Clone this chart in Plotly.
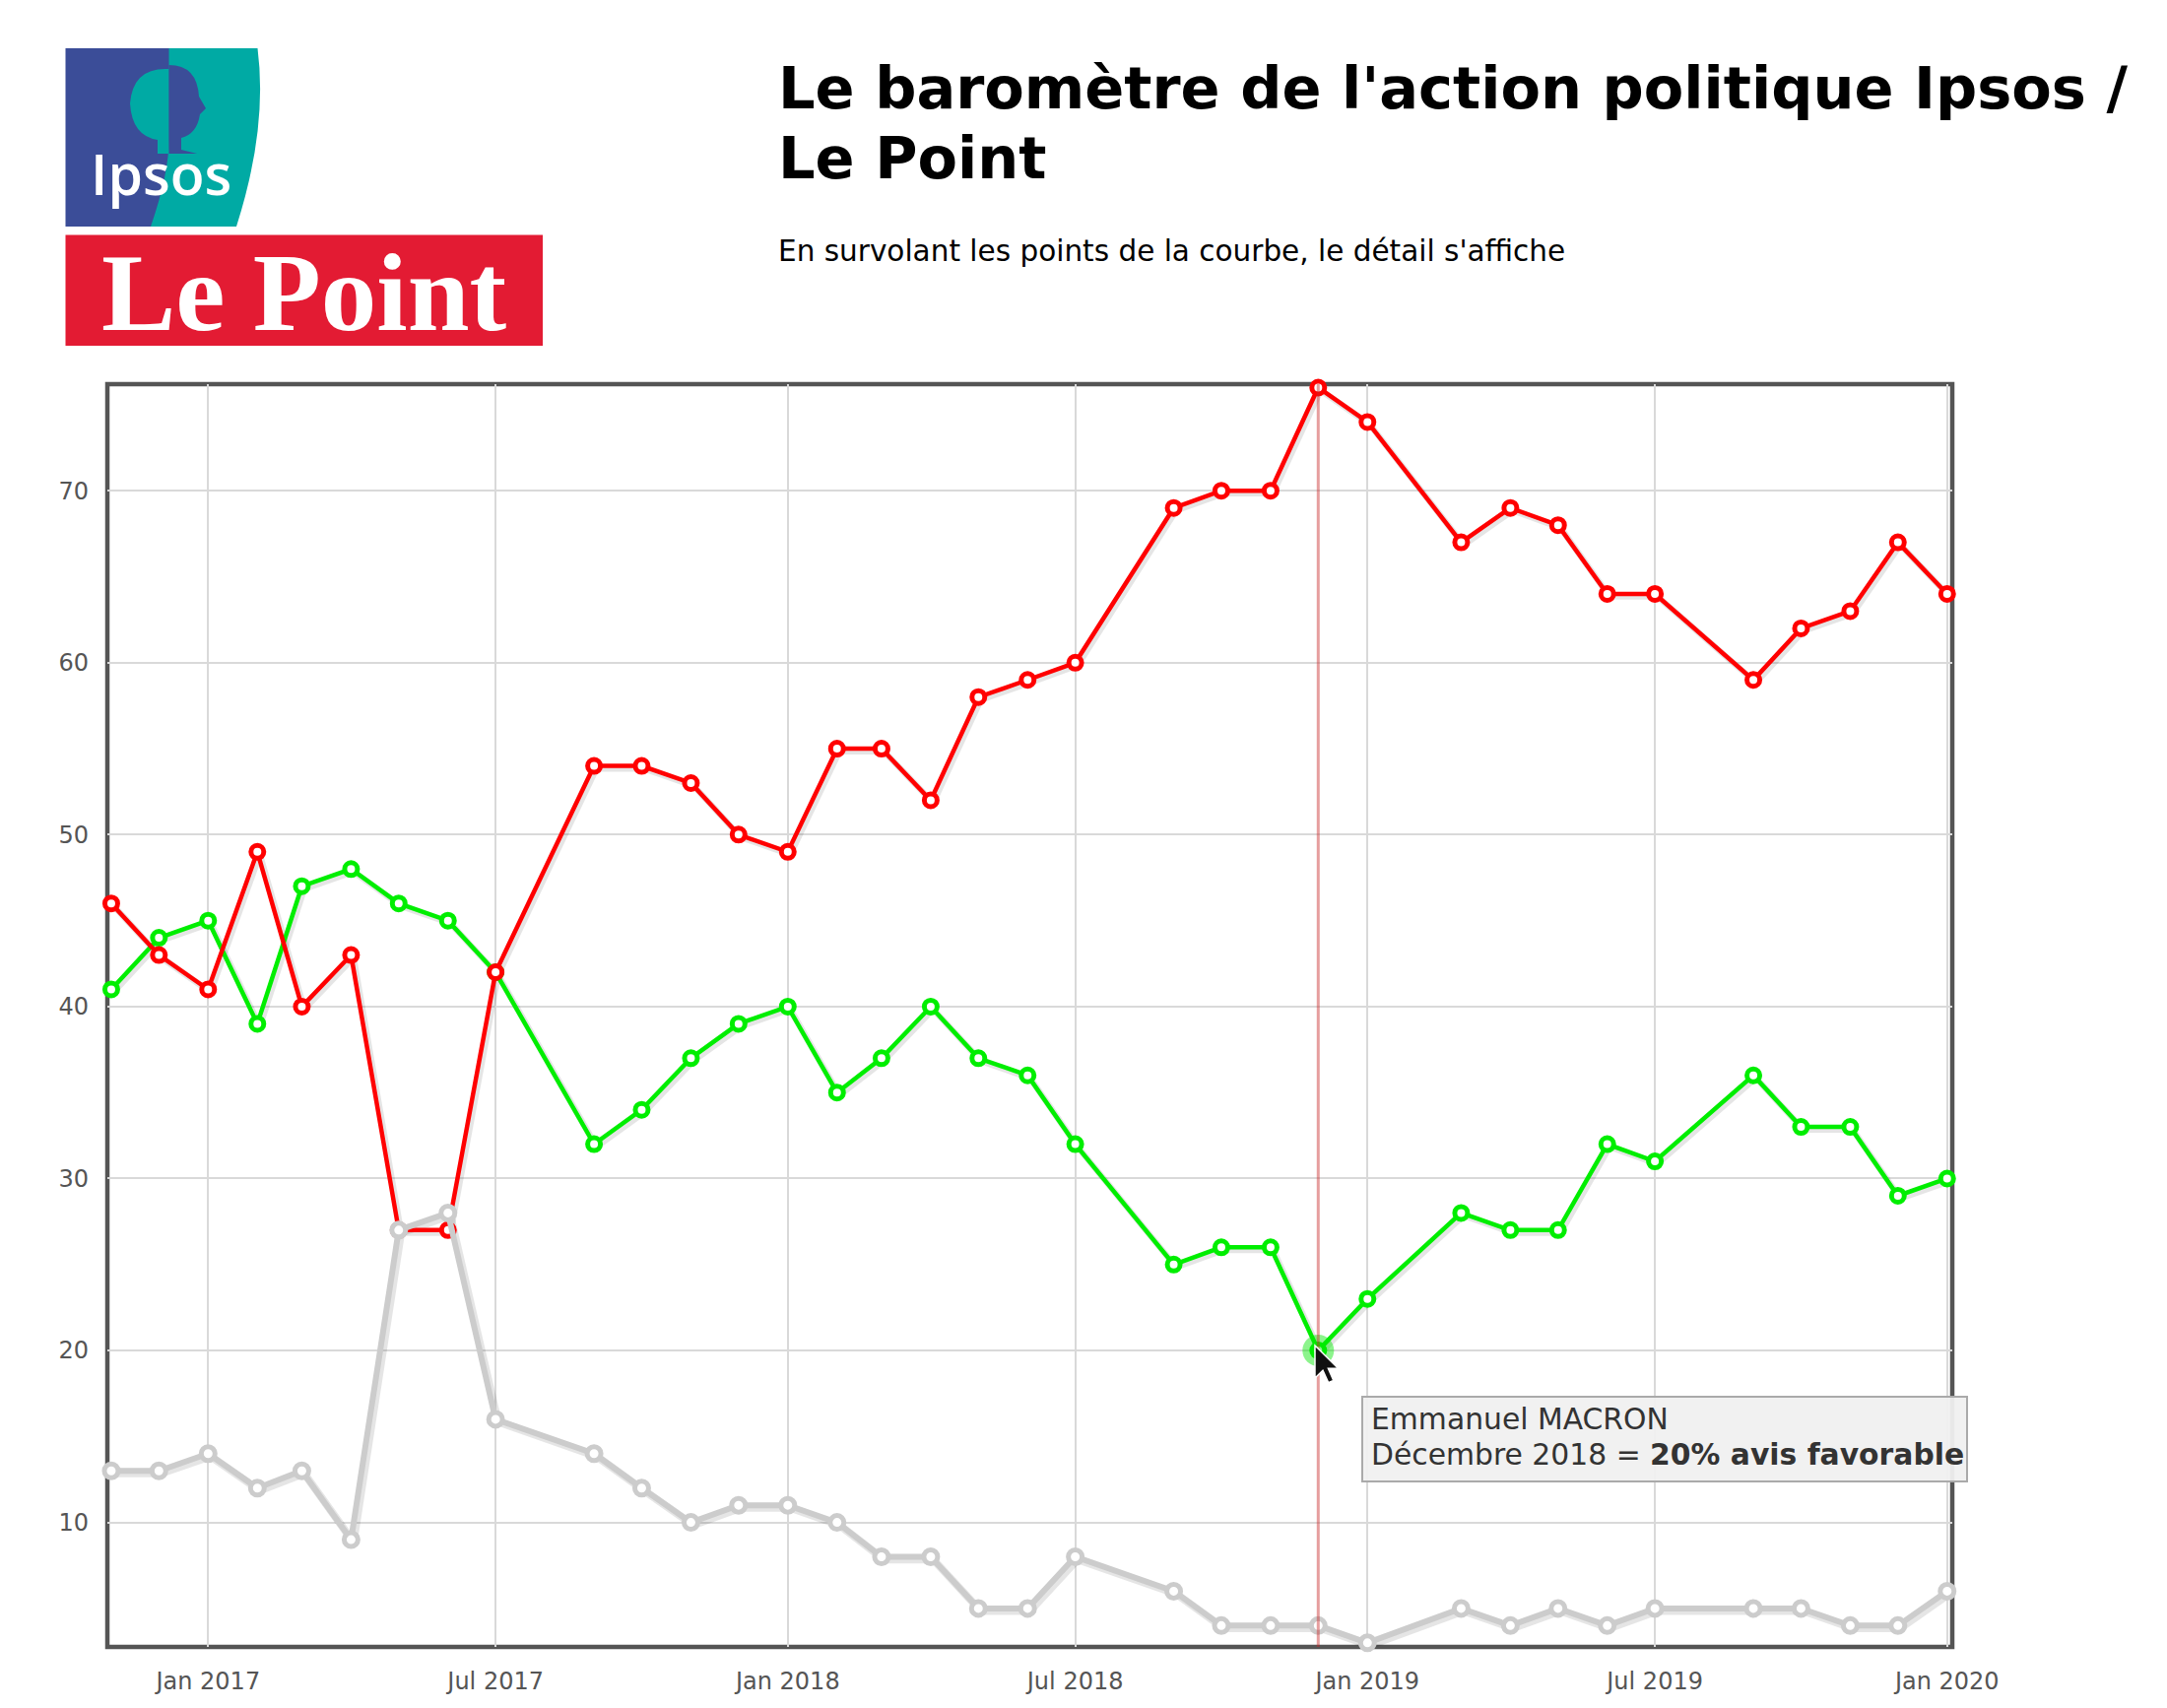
import plotly.graph_objects as go
import pandas as pd

# Baromètre Ipsos / Le Point - Emmanuel Macron (avis en %)
mois = ["2016-11-01", "2016-12-01", "2017-01-01", "2017-02-01", "2017-03-01", "2017-04-01",
        "2017-05-01", "2017-06-01", "2017-07-01", "2017-09-01", "2017-10-01", "2017-11-01",
        "2017-12-01", "2018-01-01", "2018-02-01", "2018-03-01", "2018-04-01", "2018-05-01",
        "2018-06-01", "2018-07-01", "2018-09-01", "2018-10-01", "2018-11-01", "2018-12-01",
        "2019-01-01", "2019-03-01", "2019-04-01", "2019-05-01", "2019-06-01", "2019-07-01",
        "2019-09-01", "2019-10-01", "2019-11-01", "2019-12-01", "2020-01-01"]
favorable = [41, 44, 45, 39, 47, 48, 46, 45, 42, 32, 34, 37, 39, 40, 35, 37, 40, 37,
             36, 32, 25, 26, 26, 20, 23, 28, 27, 27, 32, 31, 36, 33, 33, 29, 30]
defavorable = [46, 43, 41, 49, 40, 43, 27, 27, 42, 54, 54, 53, 50, 49, 55, 55, 52, 58,
               59, 60, 69, 70, 70, 76, 74, 67, 69, 68, 64, 64, 59, 62, 63, 67, 64]
sans_opinion = [13, 13, 14, 12, 13, 9, 27, 28, 16, 14, 12, 10, 11, 11, 10, 8, 8, 5,
                5, 8, 6, 4, 4, 4, 3, 5, 4, 5, 4, 5, 5, 5, 4, 4, 6]

y_ticks = [10, 20, 30, 40, 50, 60, 70]
x_ticks = ["2017-01-01", "2017-07-01", "2018-01-01", "2018-07-01",
           "2019-01-01", "2019-07-01", "2020-01-01"]
x_tick_labels = ["Jan 2017", "Jul 2017", "Jan 2018", "Jul 2018",
                 "Jan 2019", "Jul 2019", "Jan 2020"]

# point survolé (tooltip)
survol = 23
mois_fr = "Décembre 2018"
personnalite = "Emmanuel MACRON"

W, H = 2200, 1734
OFF = 8  # page body margin
L, R, T, B = 109, 1982, 390, 1672  # plot area in page pixels


def px(x):
    return (x - L) / (R - L)


def py(y):
    return (B - y) / (B - T)


# x range from the pixel scale of the reference (1.6123 px per day)
jan17 = pd.Timestamp("2017-01-01")
px_per_day = 1.6123
x_start = jan17 - pd.Timedelta(days=(211.3 - L) / px_per_day)
x_end = jan17 + pd.Timedelta(days=(R - 211.3) / px_per_day)

fig = go.Figure()

series = [
    (favorable, "#00ee00", 4.5, 13, 5, "avis favorable"),
    (defavorable, "#ff0000", 4.5, 13, 5, "avis défavorable"),
    (sans_opinion, "#cccccc", 6, 14, 5, "sans opinion"),
]

# soft drop shadows
for vals, col, w, ms, mw, nom in series:
    fig.add_trace(go.Scatter(
        x=pd.to_datetime(mois) + pd.Timedelta(days=1.5), y=[v - 0.15 for v in vals],
        mode="lines", line=dict(color="rgba(0,0,0,0.10)", width=w + 2),
        hoverinfo="skip", showlegend=False, cliponaxis=False
    ))

for vals, col, w, ms, mw, nom in series:
    fig.add_trace(go.Scatter(
        x=mois, y=vals, mode="lines+markers",
        line=dict(color=col, width=w),
        marker=dict(size=ms, color="white", line=dict(color=col, width=mw)),
        name=nom, showlegend=False, cliponaxis=False,
        hovertemplate="%{x|%B %Y} = <b>%{y}% " + nom + "</b><extra></extra>"
    ))

# highlighted hovered point
fig.add_trace(go.Scatter(
    x=[mois[survol]], y=[favorable[survol]], mode="markers",
    marker=dict(size=32, color="rgba(0,230,0,0.45)"),
    hoverinfo="skip", showlegend=False, cliponaxis=False
))

shapes = []
# plot frame
shapes.append(dict(type="rect", xref="paper", yref="paper", x0=0, x1=1, y0=0, y1=1,
                   line=dict(color="#555555", width=4.5), layer="between"))
# vertical hover line
shapes.append(dict(type="line", xref="x", yref="paper", x0=mois[survol], x1=mois[survol],
                   y0=0, y1=1, line=dict(color="rgba(200,40,40,0.45)", width=3), layer="above"))
# tooltip box
shapes.append(dict(type="rect", xref="paper", yref="paper",
                   x0=px(1383), x1=px(1997), y0=py(1418), y1=py(1504),
                   fillcolor="rgba(240,240,240,0.95)", line=dict(color="#aaaaaa", width=2),
                   layer="above"))

# mouse cursor
cur = [(0, 0), (0, 16.5), (4, 12.6), (6.8, 18.8), (9.4, 17.7), (6.7, 11.6), (11.8, 11.6)]
tip_x, tip_y, k = 1335, 1366, 2.0
path = "M " + " L ".join(f"{px(tip_x + a * k):.5f},{py(tip_y + b * k):.5f}" for a, b in cur) + " Z"
shapes.append(dict(type="path", xref="paper", yref="paper", path=path,
                   fillcolor="#111111", line=dict(color="white", width=1.5), layer="above"))

# Ipsos logo
shapes.append(dict(type="rect", xref="paper", yref="paper",
                   x0=px(66.5), x1=px(200), y0=py(230), y1=py(49),
                   fillcolor="#3b4d98", line=dict(width=0), layer="above"))
teal = (f"M {px(171.5)},{py(49)} L {px(261.5)},{py(49)} "
        f"Q {px(272)},{py(130)} {px(240)},{py(230)} L {px(153)},{py(230)} "
        f"Q {px(172)},{py(175)} {px(171.5)},{py(140)} Z")
shapes.append(dict(type="path", xref="paper", yref="paper", path=teal,
                   fillcolor="#00aaa4", line=dict(width=0), layer="above"))
hair = (f"M {px(171.5)},{py(70)} Q {px(135)},{py(68)} {px(132)},{py(105)} "
        f"Q {px(134)},{py(138)} {px(160)},{py(142)} L {px(160)},{py(156)} "
        f"L {px(171.5)},{py(156)} Z")
shapes.append(dict(type="path", xref="paper", yref="paper", path=hair,
                   fillcolor="#00aaa4", line=dict(width=0), layer="above"))
face = (f"M {px(171.5)},{py(66)} Q {px(200)},{py(66)} {px(202)},{py(98)} "
        f"L {px(209)},{py(110)} L {px(203)},{py(116)} Q {px(200)},{py(136)} {px(184)},{py(140)} "
        f"L {px(184)},{py(152)} L {px(200)},{py(156)} L {px(171.5)},{py(156)} Z")
shapes.append(dict(type="path", xref="paper", yref="paper", path=face,
                   fillcolor="#3b4d98", line=dict(width=0), layer="above"))

# Le Point logo
shapes.append(dict(type="rect", xref="paper", yref="paper",
                   x0=px(66.5), x1=px(551), y0=py(351), y1=py(238.5),
                   fillcolor="#e31b33", line=dict(width=0), layer="above"))

annotations = [
    dict(text="Ipsos", x=px(163), y=py(176), xref="paper", yref="paper",
         xanchor="center", yanchor="middle", showarrow=False,
         font=dict(family="Open Sans", size=57, color="white", weight=600)),
    dict(text="<b>Le Point</b>", x=px(309), y=py(296), xref="paper", yref="paper",
         xanchor="center", yanchor="middle", showarrow=False,
         font=dict(family="Liberation Serif", size=113, color="white")),
    dict(text="<b>Le baromètre de l'action politique Ipsos /</b>", x=px(788), y=py(89),
         xref="paper", yref="paper", xanchor="left", yanchor="middle", showarrow=False,
         font=dict(family="DejaVu Sans", size=59, color="black")),
    dict(text="<b>Le Point</b>", x=px(788), y=py(161),
         xref="paper", yref="paper", xanchor="left", yanchor="middle", showarrow=False,
         font=dict(family="DejaVu Sans", size=59, color="black")),
    dict(text="En survolant les points de la courbe, le détail s'affiche", x=px(788), y=py(255),
         xref="paper", yref="paper", xanchor="left", yanchor="middle", showarrow=False,
         font=dict(family="DejaVu Sans", size=29.5, color="black")),
    dict(text=personnalite, x=px(1390), y=py(1440),
         xref="paper", yref="paper", xanchor="left", yanchor="middle", showarrow=False,
         font=dict(family="DejaVu Sans", size=29.8, color="#333333")),
    dict(text=f"{mois_fr} = <b>{favorable[survol]}% avis favorable</b>", x=px(1390), y=py(1476),
         xref="paper", yref="paper", xanchor="left", yanchor="middle", showarrow=False,
         font=dict(family="DejaVu Sans", size=29.8, color="#333333")),
]

fig.update_layout(
    width=W, height=H,
    margin=dict(l=L - OFF, r=W + OFF - R, t=T - OFF, b=H + OFF - B, pad=0),
    paper_bgcolor="white", plot_bgcolor="white",
    showlegend=False,
    shapes=shapes, annotations=annotations,
    xaxis=dict(
        type="date", range=[x_start, x_end],
        tickvals=x_ticks, ticktext=x_tick_labels,
        showgrid=True, gridcolor="#d9d9d9", gridwidth=2,
        zeroline=False, showline=False, ticks="",
        ticklabelstandoff=18,
        tickfont=dict(family="DejaVu Sans", size=24, color="#555555"),
    ),
    yaxis=dict(
        range=[2.76, 76.2], tickvals=y_ticks,
        showgrid=True, gridcolor="#d9d9d9", gridwidth=2,
        zeroline=False, showline=False, ticks="",
        ticklabelstandoff=18,
        tickfont=dict(family="DejaVu Sans", size=24, color="#555555"),
    ),
    hoverlabel=dict(bgcolor="#f0f0f0", font=dict(family="DejaVu Sans", size=24, color="#333")),
)

fig.write_html("out.html")
